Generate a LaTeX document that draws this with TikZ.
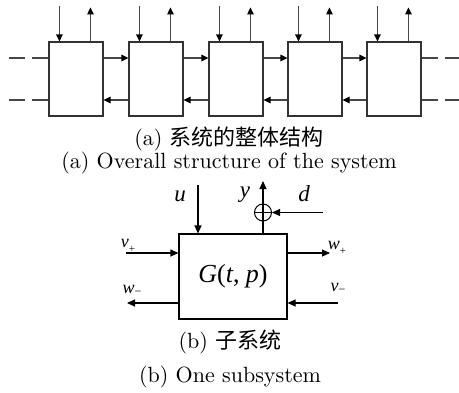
\documentclass[tikz,border=0pt]{standalone}
\usepackage{fontspec}
\setmainfont{lmroman10-regular.otf}
\newfontfamily\cjk{Noto Sans CJK SC}
\newfontfamily\tnr{Liberation Serif}
\usetikzlibrary{arrows.meta}
\begin{document}
\begin{tikzpicture}[x=1pt,y=-1pt,
  ln/.style={line width=1.1pt, draw=black!72},
  arr/.style={ln, -{Triangle[length=7pt,width=6.5pt,black]}},
  blk/.style={draw=black!80, line width=1.1pt, minimum width=54pt, minimum height=74pt, inner sep=0pt},
  captxt/.style={font=\fontsize{22}{26}\selectfont, anchor=base, inner sep=0pt},
  lab/.style={font=\tnr\itshape\fontsize{23}{23}\selectfont, inner sep=0pt},
  sl/.style={font=\tnr\fontsize{18}{18}\selectfont, inner sep=0pt},
  sarr/.style={line width=1.1pt, draw=black, -{Triangle[length=8pt,width=7pt]}},
  subbox/.style={draw, line width=1.1pt, minimum width=108pt, minimum height=85pt, inner sep=0pt,
     font=\tnr\fontsize{26}{26}\selectfont}
]
\useasboundingbox (0,0) rectangle (459,392);

% ---- (a) overall structure ----
\foreach \i/\xl in {1/49,2/129,3/209,4/288,5/367}{
  \node[blk] (b\i) at (\xl+27,79) {};
  \draw[arr] ([xshift=11pt,yshift=35pt]b\i.north west) -- ([xshift=11pt]b\i.north west);
  \draw[arr] ([xshift=42pt]b\i.north west) -- ([xshift=42pt,yshift=34pt]b\i.north west);
}
\coordinate (ytop) at (0,58);
\coordinate (ybot) at (0,100);
\foreach \i/\j in {1/2,2/3,3/4,4/5}{
  \draw[arr] (b\i.east |- ytop) -- (b\j.west |- ytop);
  \draw[arr] (b\j.west |- ybot) -- (b\i.east |- ybot);
}
\coordinate (la) at (9,58);
\coordinate (lb) at (9,100);
\coordinate (ra) at (459,58);
\coordinate (rb) at (459,100);
\draw[ln, dash pattern=on 16pt off 7pt] (la) -- (b1.west |- la);
\draw[ln, dash pattern=on 16pt off 7pt] (lb) -- (b1.west |- lb);
\draw[ln, dash pattern=on 16pt off 7pt] (b5.east |- ra) -- (ra);
\draw[ln, dash pattern=on 16pt off 7pt] (b5.east |- rb) -- (rb);

\node[captxt] (ca1) at (229,145) {(a) {\cjk 系统的整体结构}};
\node[captxt] (ca2) at (229,168) {(a) Overall structure of the system};

% ---- (b) one subsystem ----
\node[subbox] (G) at (233,276.5) {\textit{G}(\textit{t}, \textit{p})};

\node[draw, circle, line width=1pt, minimum size=17pt, inner sep=0pt] (S) at (263,212.5) {};
\draw[line width=1pt] (S.west) -- (S.east);
\coordinate (ytip) at (263,181);
\draw[sarr] (G.north -| S) -- (ytip);
\coordinate (dst) at (323,212.5);
\draw[sarr] (dst) -- (S.east);
\coordinate (ust) at (198,185);
\draw[sarr] (ust) -- (G.north -| ust);

\node[lab] (lu) at (180,196) {u};
\node[lab] (ly) at (245,195) {y};
\node[lab] (ld) at (304,194) {d};

\coordinate (vp) at (126,253);
\draw[sarr] (vp) -- (G.west |- vp);
\coordinate (wp) at (330,253);
\draw[sarr] (G.east |- wp) -- (wp);
\coordinate (wm) at (127,303);
\draw[sarr] (G.west |- wm) -- (wm);
\coordinate (vm) at (338,303);
\draw[sarr] (vm) -- (G.east |- vm);

\node[sl] (lvp) at (128,246) {\textit{v}\raisebox{-5pt}{\fontsize{11}{11}\selectfont +}};
\node[sl] (lwp) at (337,248) {\textit{w}\raisebox{-5pt}{\fontsize{11}{11}\selectfont +}};
\node[sl] (lwm) at (132,290) {\textit{w}\raisebox{-2pt}{\fontsize{12}{12}\selectfont −}};
\node[sl] (lvm) at (338,288) {\textit{v}\raisebox{-2pt}{\fontsize{12}{12}\selectfont −}};

\node[captxt] (cb1) at (230,348.5) {(b) {\cjk 子系统}};
\node[captxt] (cb2) at (230,382) {(b) One subsystem};
\end{tikzpicture}
\end{document}
